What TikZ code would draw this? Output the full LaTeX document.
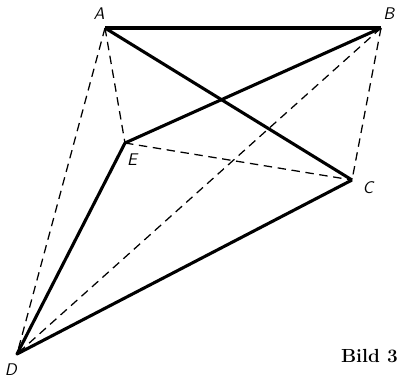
\documentclass[tikz,border=0pt]{standalone}
\usepackage{amsmath}
\usetikzlibrary{calc}

\begin{document}
\begin{tikzpicture}[scale=1.0, line join=round,
  edge/.style={line width=2.2pt},
  hidden/.style={line width=0.9pt, dash pattern=on 6pt off 4pt},
  lbl/.style={font=\sffamily\itshape\large, inner sep=2pt}]
  \useasboundingbox (0,0) rectangle (10,9.5);
  \coordinate (A) at (2.625, 8.8);
  \coordinate (B) at (9.525, 8.8);
  \coordinate (C) at (8.8, 5.0);
  \coordinate (D) at (0.425, 0.65);
  \coordinate (E) at (3.125, 5.925);

  % verdeckte Kanten
  \draw[hidden] (A) -- (D);
  \draw[hidden] (A) -- (E);
  \draw[hidden] (B) -- (C);
  \draw[hidden] (B) -- (D);
  \draw[hidden] (E) -- (C);

  % sichtbare Kanten
  \draw[edge] (A) -- (B);
  \draw[edge] (A) -- (C);
  \draw[edge] (B) -- (E) -- (D) -- (C);

  \node[lbl] (lA) at (2.48, 9.17) {A};
  \node[lbl] (lB) at (9.72, 9.17) {B};
  \node[lbl] (lC) at (9.2, 4.8) {C};
  \node[lbl] (lD) at (0.27, 0.27) {D};
  \node[lbl] (lE) at (3.3, 5.5) {E};

  \node[anchor=east, inner sep=0pt, font=\fontsize{13.5}{16}\selectfont\bfseries] (bild) at (9.95, 0.6) {Bild 3};
\end{tikzpicture}
\end{document}
